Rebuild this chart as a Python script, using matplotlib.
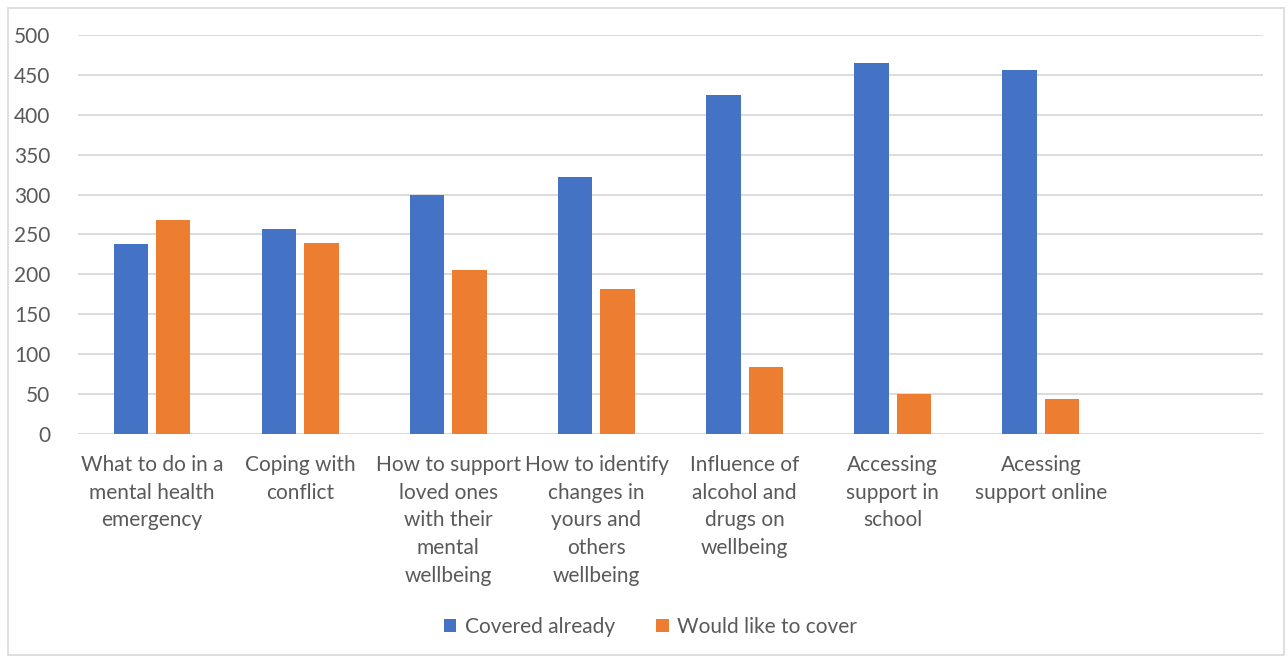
import numpy as np
import matplotlib.pyplot as plt
from matplotlib.patches import Rectangle

plt.rcParams['font.family'] = ['Lato', 'DejaVu Sans']

categories = [
    'What to do in a\nmental health\nemergency',
    'Coping with\nconflict',
    'How to support\nloved ones\nwith their\nmental\nwellbeing',
    'How to identify\nchanges in\nyours and\nothers\nwellbeing',
    'Influence of\nalcohol and\ndrugs on\nwellbeing',
    'Accessing\nsupport in\nschool',
    'Acessing\nsupport online',
]
covered = [238, 257, 299, 322, 425, 465, 456]
would_like = [268, 239, 205, 182, 84, 50, 44]

blue = '#4472C4'
orange = '#ED7D31'
text_col = '#595959'

fig = plt.figure(figsize=(12.88, 6.6), dpi=100)
ax = fig.add_axes([0.0606, 0.3424, 0.92, 0.6046])

x = np.arange(len(categories))
w = 0.232
ax.bar(x - 0.143, covered, w, color=blue, label='Covered already', zorder=3)
ax.bar(x + 0.143, would_like, w, color=orange, label='Would like to cover', zorder=3)

ax.set_xlim(-0.5, 7.5)
ax.set_ylim(0, 500)
ax.set_yticks(np.arange(0, 501, 50))
ax.yaxis.grid(True, color='#d9d9d9', linewidth=1.3, zorder=0)
ax.set_axisbelow(True)
for s in ['top', 'right', 'left', 'bottom']:
    ax.spines[s].set_visible(False)
ax.tick_params(axis='y', length=0, labelsize=15, labelcolor=text_col, pad=20)
ax.tick_params(axis='x', length=0)
ax.set_xticks(x)
ax.set_xticklabels(categories, fontsize=15, color=text_col, linespacing=1.48,
                   va='top', ha='center', multialignment='center')
ax.tick_params(axis='x', pad=15)
ax.axhline(0, color='#d9d9d9', linewidth=1.3, zorder=2)

fig.legend(loc='center', bbox_to_anchor=(0.505, 0.05), ncol=2, frameon=False,
           fontsize=15, labelcolor=text_col, handlelength=0.6, handleheight=0.6,
           columnspacing=2.0, handletextpad=0.4)

fig.patches.append(Rectangle((0.006, 0.008), 0.991, 0.98, transform=fig.transFigure,
                             fill=False, edgecolor='#d9d9d9', linewidth=1.2))

fig.savefig('out.png', dpi=100)
